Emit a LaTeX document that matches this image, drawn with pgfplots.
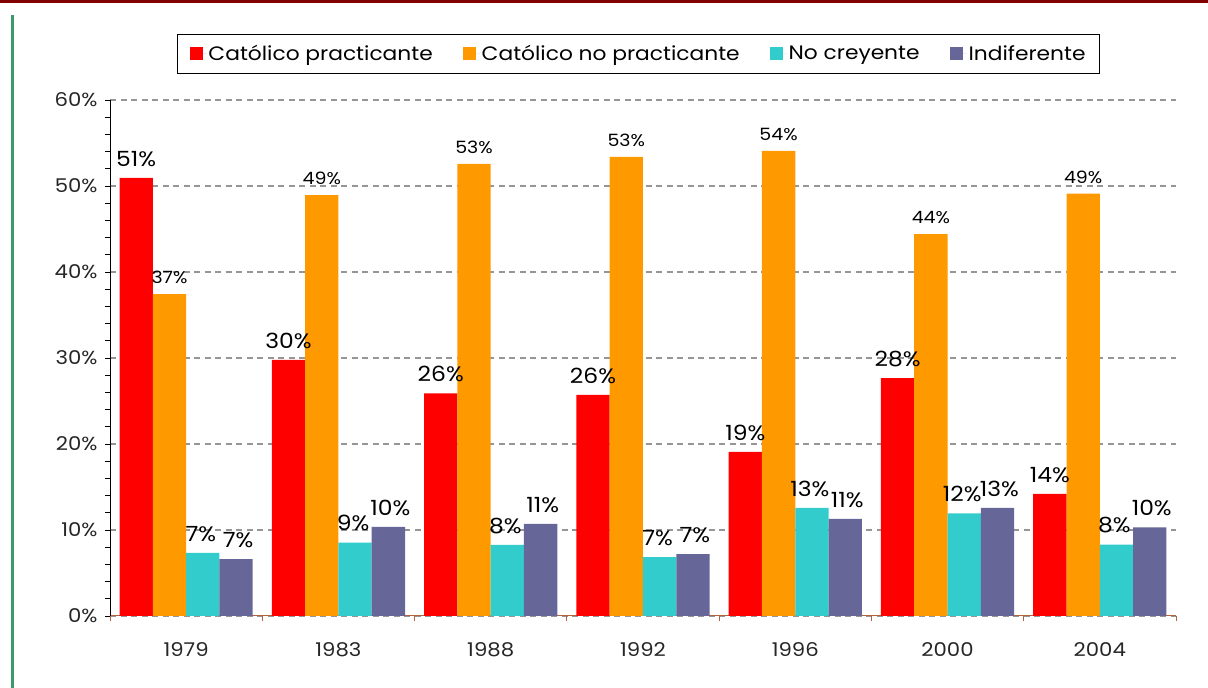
\documentclass[border=0pt]{standalone}
\usepackage{pgfplots}
\pgfplotsset{compat=1.18}
\usepackage{fontspec}
\setmainfont{Poppins}[FakeStretch=1.12]
\definecolor{cRed}{HTML}{FF0000}
\definecolor{cOrange}{HTML}{FF9900}
\definecolor{cCyan}{HTML}{33CCCC}
\definecolor{cPurple}{HTML}{666699}
\definecolor{cGrid}{HTML}{969696}
\definecolor{cAxisX}{HTML}{B4643C}
\definecolor{cTop}{HTML}{800000}
\definecolor{cGreen}{HTML}{3A9A6A}
\begin{document}
\begin{tikzpicture}
\useasboundingbox (0,0) rectangle (1208bp,688bp);
\draw[cTop, line width=3bp] (0,686.5bp) -- (1208bp,686.5bp);
\draw[cGreen, line width=3bp] (12.5bp,0) -- (12.5bp,673bp);
\begin{axis}[
  at={(110bp,72bp)}, anchor=south west,
  scale only axis, width=1066bp, height=516bp,
  ymin=0, ymax=60, xmin=-0.5, xmax=6.5,
  ybar=0pt, bar width=33.3bp,
  axis lines*=left,
  x axis line style={cAxisX, line width=1bp},
  y axis line style={black, line width=1bp},
  tick align=outside,
  major tick length=5bp, minor tick length=5bp,
  ytick={0,10,...,60}, minor y tick num=4,
  y tick style={black, line width=0.8bp},
  yticklabel={\pgfmathprintnumber{\tick}\%},
  xtick={0,...,6},
  xticklabels={1979,1983,1988,1992,1996,2000,2004},
  minor xtick={-0.5,0.5,...,6.5},
  major x tick style={draw=none},
  minor x tick style={cAxisX, line width=0.8bp},
  /pgf/number format/assume math mode=true,
  ticklabel style={font=\fontsize{19}{22}\selectfont, text=black!85},
  xticklabel style={yshift=-18bp},
  yticklabel style={xshift=-4bp},
  ymajorgrids,
  major grid style={cGrid, line width=1.5bp, dash pattern=on 6bp off 4.5bp},
  nodes near coords={\pgfmathprintnumber[fixed,precision=0]{\pgfplotspointmeta}\%},
  every node near coord/.append style={font=\fontsize{21}{25}\selectfont, text=black, yshift=8bp, inner xsep=0pt},
  legend columns=4,
  legend style={at={(0.4958,1.090)}, anchor=center, draw=black, line width=0.8bp,
    font=\fontsize{19.5}{23}\selectfont, inner xsep=12bp, inner ysep=9bp,
    /tikz/every even column/.append style={column sep=28bp}},
  legend image code/.code={\fill[#1] (0bp,-6.5bp) rectangle (13bp,6.5bp); \path (0bp,0bp) -- (17bp,0bp);},
]
\addplot[fill=cRed, draw=none] coordinates {(0,50.93) (1,29.77) (2,25.9) (3,25.7) (4,19.07) (5,27.67) (6,14.2)};
\addplot[fill=cOrange, draw=none, every node near coord/.append style={font=\fontsize{17}{20}\selectfont, yshift=-1bp}] coordinates {(0,37.44) (1,48.95) (2,52.56) (3,53.4) (4,54.07) (5,44.4) (6,49.1)};
\addplot[fill=cCyan, draw=none, every node near coord/.append style={xshift=-2bp}] coordinates {(0,7.33) (1,8.52) (2,8.26) (3,6.86) (4,12.56) (5,11.94) (6,8.3)};
\addplot[fill=cPurple, draw=none, every node near coord/.append style={xshift=2bp}] coordinates {(0,6.6) (1,10.35) (2,10.7) (3,7.2) (4,11.28) (5,12.56) (6,10.3)};
\legend{Católico practicante, Católico no practicante, No creyente, Indiferente}
\end{axis}
\end{tikzpicture}
\end{document}
